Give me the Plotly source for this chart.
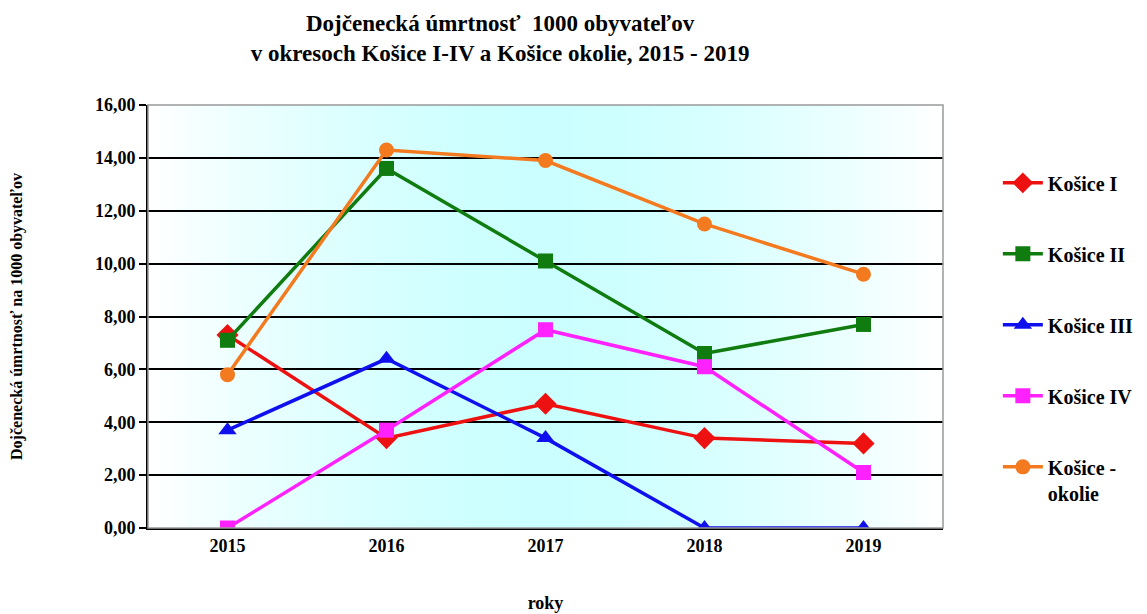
import plotly.graph_objects as go

years = ["2015", "2016", "2017", "2018", "2019"]
kosice_1 = [7.3, 3.4, 4.7, 3.4, 3.2]
kosice_2 = [7.1, 13.6, 10.1, 6.6, 7.7]
kosice_3 = [3.7, 6.4, 3.4, 0.0, 0.0]
kosice_4 = [0.0, 3.7, 7.5, 6.1, 2.1]
kosice_okolie = [5.8, 14.3, 13.9, 11.5, 9.6]
y_ticks = [0, 2, 4, 6, 8, 10, 12, 14, 16]

series = [
    ("Košice I", kosice_1, "#ee1111", "diamond", 17),
    ("Košice II", kosice_2, "#107c10", "square", 15),
    ("Košice III", kosice_3, "#1010ee", "triangle-up", 16),
    ("Košice IV", kosice_4, "#ff22ff", "square", 15),
    ("Košice -<br>okolie", kosice_okolie, "#f47a20", "circle", 15),
]

fig = go.Figure()
for i, (name, vals, col, sym, size) in enumerate(series):
    fig.add_trace(go.Scatter(
        x=years, y=vals, name=name, mode="lines+markers",
        line=dict(color=col, width=3.5),
        marker=dict(symbol=sym, size=size, color=col),
        legendgroup=str(i),
    ))

# gradient background: white edges, cyan centre
n = 60
shapes = []
for k in range(n):
    t = (k + 0.5) / n
    d = abs(t - 0.5) / 0.5
    inten = max(0.0, 1 - d ** 1.6)
    r = int(round(255 - 52 * inten))
    shapes.append(dict(type="rect", xref="x domain", yref="y domain",
                       x0=k / n, x1=(k + 1) / n + 0.002, y0=0, y1=1,
                       fillcolor=f"rgb({r},255,255)", line=dict(width=0),
                       layer="below"))
shapes.append(dict(type="rect", xref="x domain", yref="y domain",
                   x0=0, x1=1, y0=0, y1=1,
                   line=dict(color="#999999", width=1.5), layer="above"))

font = "Liberation Serif"
bold = "bold"
fig.update_layout(
    width=1147, height=614,
    margin=dict(l=140, r=212, t=97, b=94, autoexpand=False),
    paper_bgcolor="white",
    plot_bgcolor="white",
    separators=",.",
    shapes=shapes,
    showlegend=True,
    title=dict(
        text="Dojčenecká úmrtnosť  1000 obyvateľov<br>v okresoch Košice I-IV a Košice okolie, 2015 - 2019",
        x=0.429, xanchor="center", yref="container", y=0.963, yanchor="middle",
        font=dict(family=font, size=23, color="black", weight=bold),
    ),
    xaxis=dict(
        type="category", range=[-0.5, 4.5], automargin=False,
        showgrid=False, showline=True, linecolor="black", linewidth=2,
        ticks="", tickfont=dict(family=font, size=18, color="black", weight=bold),
        title=dict(text="roky", font=dict(family=font, size=18, color="black", weight=bold), standoff=42),
    ),
    yaxis=dict(
        range=[0, 16], tickvals=y_ticks, tickformat=".2f", automargin=False,
        showgrid=True, gridcolor="black", gridwidth=1.5,
        showline=True, linecolor="black", linewidth=2,
        ticks="outside", ticklen=7, tickcolor="black", tickwidth=1.5,
        zeroline=False,
        tickfont=dict(family=font, size=18, color="black", weight=bold),
        title=dict(text="Dojčenecká úmrtnosť na 1000 obyvateľov",
                   font=dict(family=font, size=16, color="black", weight=bold), standoff=77),
    ),
    legend=dict(
        x=1.069, xanchor="left", y=0.862, yanchor="top",
        font=dict(family=font, size=20, color="black", weight=bold),
        tracegroupgap=42, valign="top", itemwidth=40,
        bgcolor="rgba(0,0,0,0)",
    ),
)
fig.write_html("out.html")
